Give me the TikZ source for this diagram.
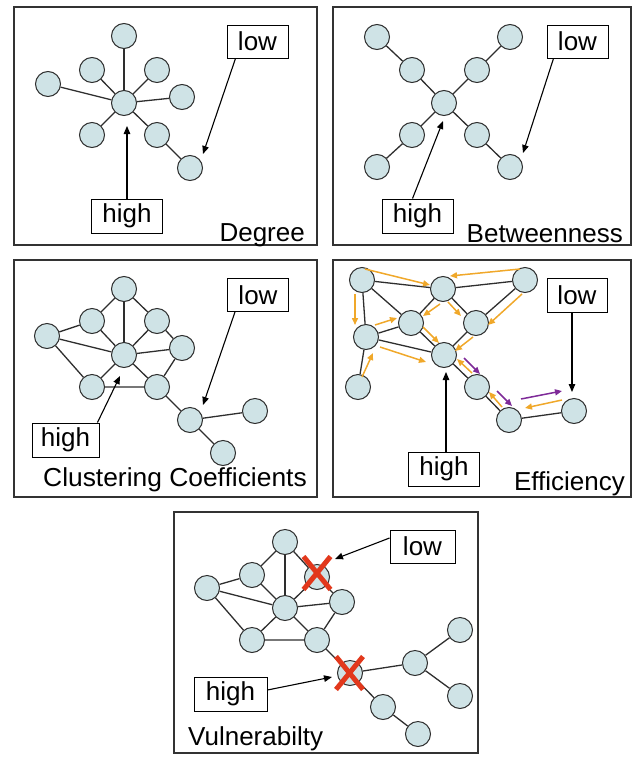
\documentclass[tikz,border=0pt]{standalone}
\usepackage{fontspec}
\setmainfont{Liberation Sans}
\usetikzlibrary{arrows.meta,calc}
\definecolor{nodefill}{HTML}{CFE3E6}
\definecolor{edgecol}{HTML}{2E2E2E}
\definecolor{oarr}{HTML}{F0A82A}
\definecolor{parr}{HTML}{7E2A98}
\definecolor{xred}{HTML}{E2381C}
\tikzset{
  nd/.style={circle,draw=edgecol,fill=nodefill,minimum size=25pt,inner sep=0pt,line width=1pt},
  ed/.style={draw=edgecol,line width=1.3pt},
  panel/.style={draw=black!80,line width=1.5pt},
  lbl/.style={draw=black,fill=white,line width=0.9pt,font=\fontsize{26}{28}\selectfont,minimum width=61pt,minimum height=33pt,inner sep=0pt},
  hlbl/.style={lbl,minimum width=71pt,minimum height=34pt},
  ttl/.style={font=\fontsize{26}{28}\selectfont,inner sep=0pt},
  ptr/.style={draw=black,line width=1.1pt,-{Triangle[length=8pt,width=6.5pt]}},
  oa/.style={draw=oarr,line width=1.5pt,-{Triangle[length=7pt,width=6pt]}},
  pa/.style={draw=parr,line width=1.5pt,-{Triangle[length=7pt,width=6pt]}},
  redx/.style={draw=xred,line width=5pt}
}
\begin{document}
\begin{tikzpicture}[x=1pt,y=-1pt]
\useasboundingbox (0,0) rectangle (635,758);
% panels
\draw[panel] (14,7) rectangle (317,245);
\draw[panel] (333,7) rectangle (631,245);
\draw[panel] (14,260) rectangle (317,497);
\draw[panel] (333,260) rectangle (631,497);
\draw[panel] (174,512) rectangle (478,753);

% ---------- Panel 1: Degree ----------
\node[nd] (c1) at (124,103) {};
\node[nd] (t1) at (124,36) {};
\node[nd] (ul1) at (92,70) {};
\node[nd] (ur1) at (157,70) {};
\node[nd] (fl1) at (48,84) {};
\node[nd] (r1) at (182,97) {};
\node[nd] (ll1) at (92,135) {};
\node[nd] (lr1) at (157,135) {};
\node[nd] (br1) at (190,168) {};
\foreach \n in {t1,ul1,ur1,fl1,r1,ll1,lr1} \draw[ed] (c1) -- (\n);
\draw[ed] (lr1) -- (br1);
\node[lbl] (low1) at (257.5,41.5) {low};
\node[hlbl] (high1) at (127,216) {high};
\coordinate (lowt1) at (203,154);
\coordinate (hight1) at (127,126);
\draw[ptr] ($(low1.south)+(-22,0)$) -- (lowt1);
\draw[ptr] (high1.north) -- (hight1);
\node[ttl,anchor=base east] (ti1) at (305,241) {Degree};

% ---------- Panel 2: Betweenness ----------
\node[nd] (c2) at (444,103) {};
\node[nd] (tl2) at (377,37) {};
\node[nd] (tr2) at (510,37) {};
\node[nd] (ul2) at (412,70) {};
\node[nd] (ur2) at (477,70) {};
\node[nd] (ll2) at (412,135) {};
\node[nd] (lr2) at (477,135) {};
\node[nd] (bl2) at (377,167) {};
\node[nd] (br2) at (510,167) {};
\draw[ed] (tl2) -- (ul2) -- (c2) -- (lr2) -- (br2);
\draw[ed] (tr2) -- (ur2) -- (c2) -- (ll2) -- (bl2);
\node[lbl] (low2) at (577.5,41.5) {low};
\node[hlbl] (high2) at (417.5,216) {high};
\coordinate (lowt2) at (523,153);
\coordinate (hight2) at (443,121);
\draw[ptr] ($(low2.south)+(-24,0)$) -- (lowt2);
\draw[ptr] ($(high2.north)+(-5,0)$) -- (hight2);
\node[ttl,anchor=base east] (ti2) at (623,242) {Betweenness};

% ---------- Panel 3: Clustering Coefficients ----------
\node[nd] (t3) at (124,289) {};
\node[nd] (ul3) at (92,321) {};
\node[nd] (ur3) at (157,321) {};
\node[nd] (fl3) at (47,336) {};
\node[nd] (r3) at (182,348) {};
\node[nd] (c3) at (124,355) {};
\node[nd] (ll3) at (92,387) {};
\node[nd] (lr3) at (157,387) {};
\node[nd] (b3) at (190,420) {};
\node[nd] (re3) at (255,411) {};
\node[nd] (de3) at (223,453) {};
\draw[ed] (t3) -- (c3);
\draw[ed] (t3) -- (ul3) -- (fl3) -- (ll3) -- (lr3) -- (r3) -- (ur3) -- (t3);
\draw[ed] (ul3) -- (c3);
\draw[ed] (ur3) -- (c3);
\draw[ed] (fl3) -- (c3);
\draw[ed] (r3) -- (c3);
\draw[ed] (ll3) -- (c3);
\draw[ed] (lr3) -- (c3);
\draw[ed] (lr3) -- (b3);
\draw[ed] (b3) -- (re3);
\draw[ed] (b3) -- (de3);
\node[lbl] (low3) at (258,295) {low};
\node[lbl,minimum width=67pt,minimum height=34pt] (high3) at (65.5,440) {high};
\coordinate (lowt3) at (203,405);
\coordinate (hight3) at (120,376);
\draw[ptr] ($(low3.south)+(-23,0)$) -- (lowt3);
\draw[ptr] ($(high3.north east)+(-2,0)$) -- (hight3);
\node[ttl,anchor=base west,xscale=1.015] (ti3) at (43,486) {Clustering Coefficients};

% ---------- Panel 4: Efficiency ----------
\node[nd] (A) at (362,280) {};
\node[nd] (B) at (443,289) {};
\node[nd] (C) at (525,280) {};
\node[nd] (D) at (411,323) {};
\node[nd] (E) at (476,323) {};
\node[nd] (F) at (366,337) {};
\node[nd] (G) at (444,355) {};
\node[nd] (H) at (358,387) {};
\node[nd] (I) at (477,387) {};
\node[nd] (J) at (509,420) {};
\node[nd] (K) at (574,411) {};
\draw[ed] (A) -- (B);
\draw[ed] (A) -- (F);
\draw[ed] (A) -- (D);
\draw[ed] (B) -- (D);
\draw[ed] (B) -- (E);
\draw[ed] (B) -- (C);
\draw[ed] (C) -- (E);
\draw[ed] (D) -- (F);
\draw[ed] (D) -- (G);
\draw[ed] (E) -- (G);
\draw[ed] (F) -- (G);
\draw[ed] (F) -- (H);
\draw[ed] (G) -- (I);
\draw[ed] (I) -- (J);
\draw[ed] (J) -- (K);
% orange / purple flow arrows
\draw[oa] ($(A)+(3,-11)$) -- ($(B)+(-13,-4)$);
\draw[oa] ($(C)+(-5,-11)$) -- ($(B)+(7,-13)$);
\draw[oa] ($(A)+(-7,14)$) -- ($(F)+(-11,-12)$);
\draw[oa] ($(F)+(9,-12)$) -- ($(D)+(-14,-5)$);
\draw[oa] ($(B)+(-3,15)$) -- ($(D)+(12,-7)$);
\draw[oa] ($(B)+(5,13)$) -- ($(E)+(-15,-7)$);
\draw[oa] ($(C)+(-3,14)$) -- ($(E)+(12,2)$);
\draw[oa] ($(D)+(12,4)$) -- ($(G)+(-5,-12)$);
\draw[oa] ($(E)+(-3,14)$) -- ($(G)+(11,-4)$);
\draw[oa] ($(F)+(14,10)$) -- ($(G)+(-18,7)$);
\draw[oa] ($(H)+(4,-10)$) -- ($(F)+(7,16)$);
\draw[oa] ($(I)+(-5,-14)$) -- ($(G)+(13,4)$);
\draw[pa] ($(G)+(20,3)$) -- ($(I)+(3,-13)$);
\draw[oa] ($(J)+(-7,-13)$) -- ($(I)+(12,5)$);
\draw[pa] ($(I)+(20,4)$) -- ($(J)+(3,-14)$);
\draw[pa] ($(J)+(12,-21)$) -- ($(K)+(-12,-20)$);
\draw[oa] ($(K)+(-12,-11)$) -- ($(J)+(16,-12)$);
\node[lbl,minimum width=60pt,minimum height=34pt] (low4) at (577,295) {low};
\node[hlbl] (high4) at (444,469) {high};
\coordinate (lowt4) at (572,392);
\coordinate (hight4) at (446,372);
\draw[ptr] ($(low4.south)+(-5,0)$) -- (lowt4);
\draw[ptr] ($(high4.north)+(2,0)$) -- (hight4);
\node[ttl,anchor=base east] (ti4) at (625,490) {Efficiency};

% ---------- Panel 5: Vulnerability ----------
\node[nd] (t5) at (285,542) {};
\node[nd] (ul5) at (252,575) {};
\node[nd] (x5) at (317,577) {};
\node[nd] (fl5) at (207,588) {};
\node[nd] (r5) at (342,602) {};
\node[nd] (c5) at (285,608) {};
\node[nd] (ll5) at (252,640) {};
\node[nd] (lr5) at (317,640) {};
\node[nd] (xx5) at (350,673) {};
\node[nd] (br5) at (415,663) {};
\node[nd] (tr5) at (460,630) {};
\node[nd] (be5) at (460,696) {};
\node[nd] (dm5) at (383,707) {};
\node[nd] (de5) at (418,734) {};
\draw[ed] (t5) -- (c5);
\draw[ed] (t5) -- (ul5) -- (fl5) -- (ll5) -- (lr5) -- (r5) -- (x5) -- (t5);
\draw[ed] (ul5) -- (c5);
\draw[ed] (x5) -- (c5);
\draw[ed] (fl5) -- (c5);
\draw[ed] (r5) -- (c5);
\draw[ed] (ll5) -- (c5);
\draw[ed] (lr5) -- (c5);
\draw[ed] (lr5) -- (xx5);
\draw[ed] (xx5) -- (br5);
\draw[ed] (br5) -- (tr5);
\draw[ed] (br5) -- (be5);
\draw[ed] (xx5) -- (dm5) -- (de5);
\draw[redx] ($(x5)+(-13.5,-20.5)$) -- ($(x5)+(13.5,12.5)$);
\draw[redx] ($(x5)+(13.5,-20.5)$) -- ($(x5)+(-13.5,12.5)$);
\draw[redx] ($(xx5)+(-14,-16.5)$) -- ($(xx5)+(13,16.5)$);
\draw[redx] ($(xx5)+(13,-16.5)$) -- ($(xx5)+(-14,16.5)$);
\node[lbl,minimum width=65pt] (low5) at (422.5,546.5) {low};
\node[hlbl,minimum width=73pt] (high5) at (230.5,694) {high};
\coordinate (lowt5) at (335,559);
\coordinate (hight5) at (332,677);
\draw[ptr] ($(low5.west)+(0,-8.5)$) -- (lowt5);
\draw[ptr] ($(high5.east)+(0,-4)$) -- (hight5);
\node[ttl,anchor=base west] (ti5) at (188,745) {Vulnerabilty};
\end{tikzpicture}
\end{document}
